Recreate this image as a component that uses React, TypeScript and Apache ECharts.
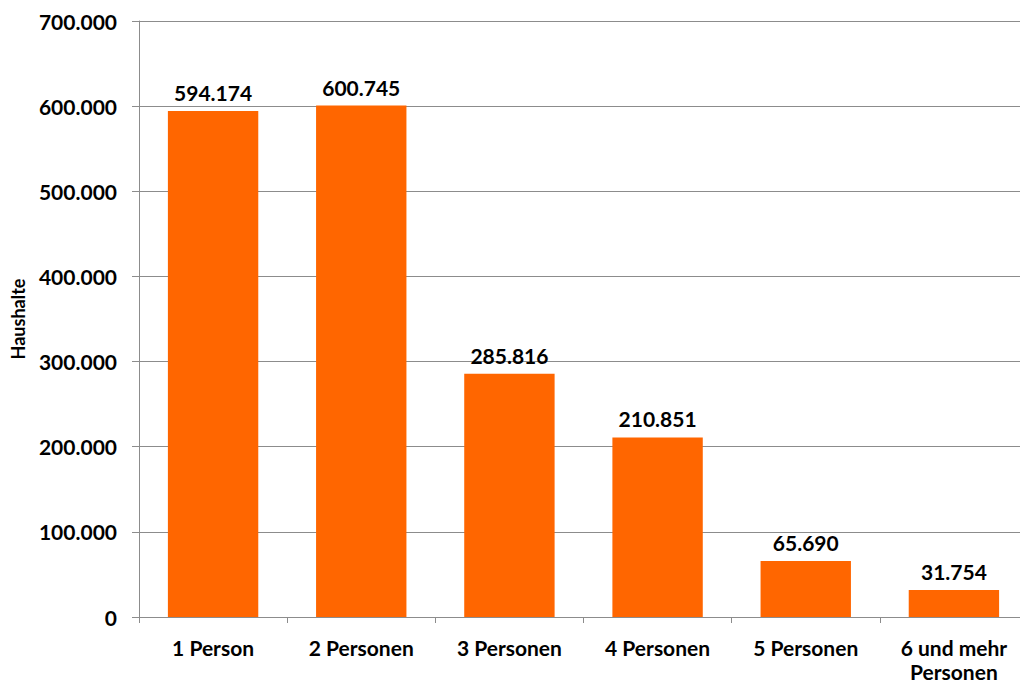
import React, { useEffect, useRef } from "react";
import * as echarts from "echarts";

const categories = ["1 Person", "2 Personen", "3 Personen", "4 Personen", "5 Personen", "6 und mehr\nPersonen"];
const values = [594174, 600745, 285816, 210851, 65690, 31754];
const yTicks = { min: 0, max: 700000, interval: 100000 };
const yAxisName = "Haushalte";

const fmt = (v: number) => {
  const s = Math.round(v).toString();
  return s.replace(/\B(?=(\d{3})+(?!\d))/g, ".");
};

const FONT = "Lato";

export default function App() {
  const ref = useRef<HTMLDivElement>(null);
  useEffect(() => {
    if (!ref.current) return;
    const chart = echarts.init(ref.current, undefined, { renderer: "svg" });
    chart.setOption({
      animation: false,
      backgroundColor: "#ffffff",
      grid: { left: 139, top: 21, width: 889, height: 596, containLabel: false, outerBoundsMode: "none" },
      xAxis: {
        type: "category",
        data: categories,
        axisLine: { lineStyle: { color: "#8c8c8c", width: 1 } },
        axisTick: { show: true, length: 6, lineStyle: { color: "#8c8c8c" } },
        axisLabel: {
          color: "#000",
          fontFamily: FONT,
          fontWeight: "bold",
          fontSize: 21,
          margin: 18,
          lineHeight: 24,
        },
      },
      yAxis: {
        type: "value",
        min: yTicks.min,
        max: yTicks.max,
        interval: yTicks.interval,
        name: yAxisName,
        nameLocation: "middle",
        nameGap: 112,
        nameRotate: 90,
        nameTextStyle: { color: "#000", fontFamily: FONT, fontWeight: "bold", fontSize: 18 },
        axisLine: { show: true, lineStyle: { color: "#8c8c8c", width: 1 } },
        axisTick: { show: true, length: 7, lineStyle: { color: "#8c8c8c" } },
        splitLine: { show: true, lineStyle: { color: "#8c8c8c", width: 1 } },
        axisLabel: {
          color: "#000",
          fontFamily: FONT,
          fontWeight: "bold",
          fontSize: 21,
          margin: 22,
          formatter: (v: number) => fmt(v),
        },
      },
      series: [
        {
          type: "bar",
          data: values,
          barWidth: "61%",
          itemStyle: { color: "#ff6600" },
          label: {
            show: true,
            position: "top",
            distance: 8,
            color: "#000",
            fontFamily: FONT,
            fontWeight: "bold",
            fontSize: 21,
            formatter: (p: any) => fmt(p.value),
          },
        },
      ],
    });
    return () => chart.dispose();
  }, []);
  return (
    <div style={{ position: "fixed", left: 0, top: 0, width: 1020, height: 684, overflow: "hidden", background: "#fff" }}>
      <div ref={ref} style={{ width: 1040, height: 684 }} />
    </div>
  );
}
